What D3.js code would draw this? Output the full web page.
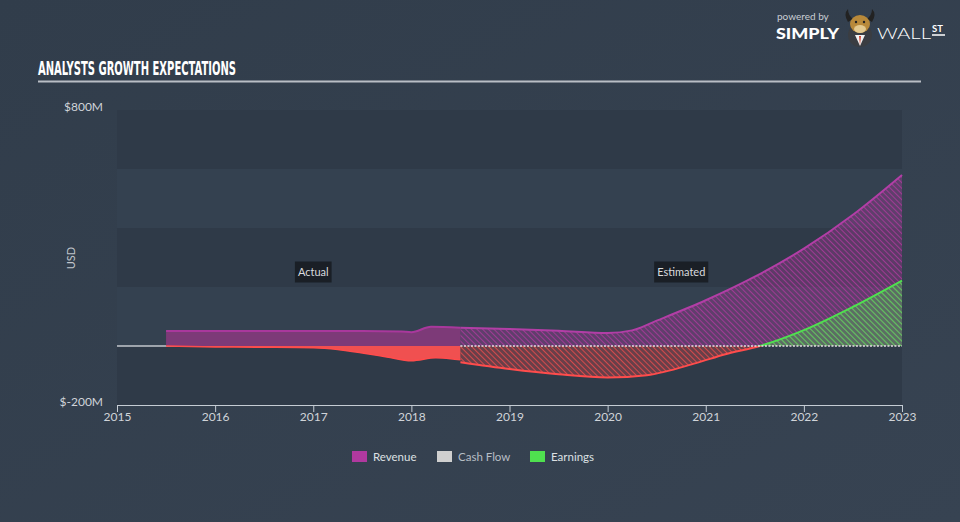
<!DOCTYPE html>
<html><head><meta charset="utf-8">
<script src="https://cdn.jsdelivr.net/npm/d3@7"></script>
<style>
html,body{margin:0;padding:0;background:#344050;}
svg{display:block;}
</style></head>
<body>
<svg id="chart" width="960" height="522"></svg>
<script>
// ---- data (values in $M) ----
const yearTicks = [2015, 2016, 2017, 2018, 2019, 2020, 2021, 2022, 2023];
const yTickLabels = ["$800M", "$-200M"];
const yTickValues = [800, -200];

const revActualX = [2015.5, 2016, 2016.5, 2017, 2017.5, 2017.9, 2018.0, 2018.2, 2018.5];
const revActual  = [51, 51, 51, 51, 51, 49, 47, 65, 62];

const earnActualX = [2015.5, 2016, 2016.5, 2017, 2017.25, 2017.5, 2017.75, 2018.0, 2018.25, 2018.4, 2018.5];
const earnActual  = [0, -3, -4, -6, -12, -24, -37, -50, -40, -43, -47];

const revEstX = [2018.5, 2019, 2019.5, 2020, 2020.25, 2020.5, 2021, 2021.5, 2022, 2022.5, 2023];
const revEst  = [62, 58, 52, 44, 53, 86, 155, 235, 330, 445, 580];

const earnEstX = [2018.5, 2019, 2019.5, 2020, 2020.4, 2020.9, 2021.2, 2021.55, 2022, 2022.5, 2023];
const earnEst  = [-55, -78, -96, -107, -99, -58, -28, 0, 54, 133, 222];

const cashEstX = [2018.5, 2023];
const cashEst  = [0, 0];

const legendItems = ["Revenue", "Cash Flow", "Earnings"];
const legendColors = ["#b0399f", "#cfcfcf", "#4fe04f"];
const periodLabels = ["Actual", "Estimated"];

// ---- layout ----
const svg = d3.select("#chart");
const W = 960, H = 522;
const plot = {left: 117, right: 902, top: 110, bottom: 405};

const defs = svg.append("defs");
const bg = defs.append("linearGradient").attr("id", "bg").attr("x1", 0).attr("y1", 0).attr("x2", 1).attr("y2", 1);
bg.append("stop").attr("offset", "0%").attr("stop-color", "#313d4b");
bg.append("stop").attr("offset", "100%").attr("stop-color", "#374352");
svg.append("rect").attr("width", W).attr("height", H).attr("fill", "url(#bg)");

const x = d3.scaleLinear().domain([2015, 2023]).range([plot.left, plot.right]);
const y = d3.scaleLinear().domain([-200, 800]).range([plot.bottom, plot.top]);

// bands
const bandEdges = [800, 600, 400, 200, 0, -200];
for (let i = 0; i < bandEdges.length - 1; i++) {
  svg.append("rect")
    .attr("x", plot.left).attr("width", plot.right - plot.left)
    .attr("y", y(bandEdges[i])).attr("height", y(bandEdges[i + 1]) - y(bandEdges[i]))
    .attr("fill", i % 2 === 0 ? "#2f3a48" : "#344150");
}

// title
svg.append("text").attr("x", 38).attr("y", 75)
  .attr("font-family", "'Liberation Sans Narrow','DejaVu Sans Condensed',sans-serif")
  .attr("font-weight", "bold").attr("font-size", 19).attr("fill", "#ffffff")
  .attr("textLength", 198).attr("lengthAdjust", "spacingAndGlyphs")
  .text("ANALYSTS GROWTH EXPECTATIONS");
svg.append("line").attr("x1", 38).attr("x2", 921).attr("y1", 81.5).attr("y2", 81.5)
  .attr("stroke", "#b9bec5").attr("stroke-width", 2);

// logo
const logo = svg.append("g");
logo.append("text").attr("x", 777).attr("y", 20).attr("font-family", "Lato, sans-serif")
  .attr("font-size", 10).attr("fill", "#c9ced4").text("powered by");
logo.append("text").attr("x", 776).attr("y", 39).attr("font-family", "Lato, sans-serif")
  .attr("font-weight", "900").attr("font-size", 15).attr("fill", "#ffffff")
  .attr("textLength", 63).attr("lengthAdjust", "spacingAndGlyphs").text("SIMPLY");
// bull mascot
logo.append("circle").attr("cx", 860).attr("cy", 35).attr("r", 12).attr("fill", "#3a3d42");
logo.append("path").attr("d", "M848 22 Q843 14 848 9 Q848 15 853 19 Z M872 22 Q877 14 872 9 Q872 15 867 19 Z").attr("fill", "#222");
logo.append("ellipse").attr("cx", 860).attr("cy", 24).attr("rx", 10).attr("ry", 9).attr("fill", "#b8893a");
logo.append("ellipse").attr("cx", 860).attr("cy", 29).attr("rx", 6).attr("ry", 4).attr("fill", "#e3c98f");
logo.append("circle").attr("cx", 856).attr("cy", 22).attr("r", 1.2).attr("fill", "#222");
logo.append("circle").attr("cx", 864).attr("cy", 22).attr("r", 1.2).attr("fill", "#222");
logo.append("path").attr("d", "M855 35 L860 46 L865 35 Z").attr("fill", "#f2f2f2");
logo.append("path").attr("d", "M859 36 L860 45 L861 36 Z").attr("fill", "#d0402a");
logo.append("text").attr("x", 877).attr("y", 39).attr("font-family", "Lato, sans-serif")
  .attr("font-weight", "300").attr("font-size", 15).attr("fill", "#ffffff")
  .attr("textLength", 54).attr("lengthAdjust", "spacingAndGlyphs").text("WALL");
logo.append("text").attr("x", 932).attr("y", 32).attr("font-family", "Lato, sans-serif")
  .attr("font-weight", "bold").attr("font-size", 9.5).attr("fill", "#ffffff").text("ST");
logo.append("line").attr("x1", 932).attr("x2", 945).attr("y1", 35).attr("y2", 35).attr("stroke", "#fff").attr("stroke-width", 1.5);

// patterns
function hatch(id, color, base) {
  const p = defs.append("pattern").attr("id", id).attr("patternUnits", "userSpaceOnUse")
    .attr("width", 4).attr("height", 4).attr("patternTransform", "rotate(-45)");
  p.append("rect").attr("width", 4).attr("height", 4).attr("fill", color).attr("fill-opacity", base);
  p.append("line").attr("x1", 0).attr("y1", 0).attr("x2", 0).attr("y2", 4)
    .attr("stroke", color).attr("stroke-width", 2).attr("stroke-opacity", 0.8);
}
hatch("hRev", "#b0399f", 0.35);
hatch("hRed", "#f04c4c", 0.3);
hatch("hGreen", "#4fe04f", 0.3);

// clip paths for sign
defs.append("clipPath").attr("id", "clipPos").append("rect")
  .attr("x", plot.left).attr("y", 0).attr("width", plot.right - plot.left + 2).attr("height", y(0));
defs.append("clipPath").attr("id", "clipNeg").append("rect")
  .attr("x", plot.left).attr("y", y(0)).attr("width", plot.right - plot.left + 2).attr("height", H - y(0));

// zero line
svg.append("line").attr("x1", plot.left).attr("x2", x(2018.5)).attr("y1", y(0)).attr("y2", y(0))
  .attr("stroke", "#c3c7cc").attr("stroke-width", 1.5);

const curve = d3.curveMonotoneX;
function zipped(xs, vs) { return xs.map((d, i) => [d, vs[i]]); }
const area = d3.area().x(d => x(d[0])).y0(y(0)).y1(d => y(d[1])).curve(curve);
const line = d3.line().x(d => x(d[0])).y(d => y(d[1])).curve(curve);

// actual areas
const rA = zipped(revActualX, revActual);
const eA = zipped(earnActualX, earnActual);
svg.append("path").attr("d", area(rA)).attr("fill", "#7d3a78");
svg.append("path").attr("d", line(rA)).attr("fill", "none").attr("stroke", "#a9389c").attr("stroke-width", 2);
svg.append("path").attr("d", area(eA)).attr("fill", "#f05050");
svg.append("path").attr("d", line(eA)).attr("fill", "none").attr("stroke", "#ff4c4c").attr("stroke-width", 1.5);

// estimated areas
const rE = zipped(revEstX, revEst);
const eE = zipped(earnEstX, earnEst);
svg.append("path").attr("d", area(rE)).attr("fill", "url(#hRev)");
svg.append("path").attr("d", area(eE)).attr("fill", "url(#hRed)").attr("clip-path", "url(#clipNeg)");
svg.append("path").attr("d", area(eE)).attr("fill", "url(#hGreen)").attr("clip-path", "url(#clipPos)");
svg.append("path").attr("d", line(rE)).attr("fill", "none").attr("stroke", "#b23ea6").attr("stroke-width", 2);
svg.append("path").attr("d", line(eE)).attr("fill", "none").attr("stroke", "#ff4c4c").attr("stroke-width", 2).attr("clip-path", "url(#clipNeg)");
svg.append("path").attr("d", line(eE)).attr("fill", "none").attr("stroke", "#4fe04f").attr("stroke-width", 2).attr("clip-path", "url(#clipPos)");

// cash flow estimate (zero, dotted)
svg.append("path").attr("d", d3.line().x(d => x(d[0])).y(d => y(d[1]))(zipped(cashEstX, cashEst)))
  .attr("fill", "none").attr("stroke", "#e6dfe4").attr("stroke-width", 1.5).attr("stroke-dasharray", "2,1.5");

// period labels
const labelPos = [(revActualX[0] + revActualX[revActualX.length - 1]) / 2, (revEstX[0] + revEstX[revEstX.length - 1]) / 2];
periodLabels.forEach((t, i) => {
  const g = svg.append("g").attr("transform", `translate(${x(labelPos[i])},${272})`);
  const txt = g.append("text").attr("text-anchor", "middle").attr("dy", "0.35em")
    .attr("font-family", "Lato, sans-serif").attr("font-size", 11).attr("fill", "#d8dadd").text(t);
  const bb = txt.node().getBBox();
  g.insert("rect", "text").attr("x", bb.x - 3).attr("y", -10.5).attr("width", bb.width + 6).attr("height", 21)
    .attr("fill", "#161b21").attr("fill-opacity", 0.85);
});

// x axis
const xAxis = svg.append("g").attr("transform", `translate(0,${plot.bottom})`)
  .call(d3.axisBottom(x).tickValues(yearTicks).tickFormat(d3.format("d")).tickSize(7).tickSizeOuter(0));
xAxis.select(".domain").attr("stroke", "#c5ccd4").attr("stroke-width", 1.2);
xAxis.selectAll(".tick line").attr("stroke", "#c5ccd4");
xAxis.selectAll(".tick text").attr("fill", "#d0d4d9").attr("font-size", 12)
  .attr("font-family", "Lato, sans-serif").attr("dy", "0.5em");

// y labels
yTickValues.forEach((v, i) => {
  svg.append("text").attr("x", 103).attr("y", y(v) - 3).attr("dy", "0.35em").attr("text-anchor", "end")
    .attr("font-family", "Lato, sans-serif").attr("font-size", 12).attr("fill", "#d0d4d9").text(yTickLabels[i]);
});
svg.append("text").attr("transform", "translate(71,258) rotate(-90)").attr("text-anchor", "middle")
  .attr("dy", "0.35em").attr("font-family", "Lato, sans-serif").attr("font-size", 11)
  .attr("fill", "#c0c5cb").text("USD");

// legend
const legendX = [352, 437, 530];
legendItems.forEach((t, i) => {
  svg.append("rect").attr("x", legendX[i]).attr("y", 451).attr("width", 15).attr("height", 11).attr("fill", legendColors[i]);
  svg.append("text").attr("x", legendX[i] + 21).attr("y", 456.5).attr("dy", "0.35em")
    .attr("font-family", "Lato, sans-serif").attr("font-size", 11.5)
    .attr("fill", i === 1 ? "#b8bec5" : "#dde0e3").text(t);
});
</script>
</body></html>
